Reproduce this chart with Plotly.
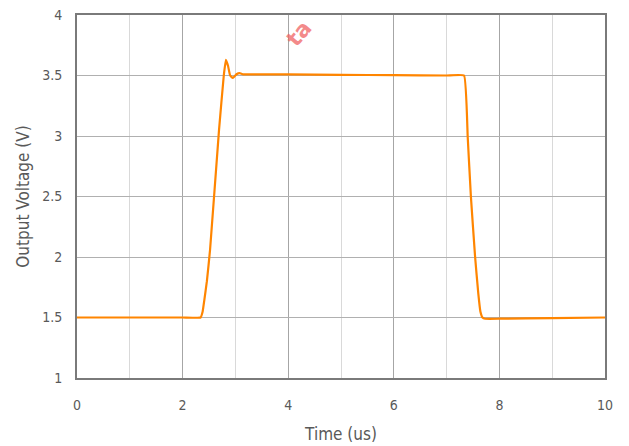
import plotly.graph_objects as go

time_us = [0, 1, 2, 2.34, 2.38, 2.41, 2.46, 2.52, 2.69, 2.78, 2.82, 2.86, 2.90, 2.95,
           3.02, 3.08, 3.15, 4, 5, 6, 7, 7.33, 7.40, 7.46, 7.54, 7.60, 7.64, 7.68,
           7.73, 8, 9, 10]
voltage = [1.5, 1.5, 1.5, 1.5, 1.55, 1.64, 1.8, 2.06, 3.05, 3.5, 3.63, 3.58, 3.5, 3.48,
           3.51, 3.52, 3.51, 3.51, 3.505, 3.503, 3.50, 3.50, 2.99, 2.5, 2.0, 1.7, 1.55, 1.5,
           1.49, 1.49, 1.495, 1.5]

x_ticks = [0, 2, 4, 6, 8, 10]
y_ticks = [1, 1.5, 2, 2.5, 3, 3.5, 4]

font_family = "DejaVu Sans Condensed, DejaVu Sans, sans-serif"
text_color = "#595959"

fig = go.Figure()
fig.add_trace(go.Scatter(x=time_us, y=voltage, mode="lines",
                         line=dict(color="#FF8500", width=2.2, shape="spline", smoothing=0.3),
                         showlegend=False))

fig.update_layout(
    width=629, height=446,
    margin=dict(l=69, r=32, t=7, b=76, autoexpand=False),
    paper_bgcolor="white", plot_bgcolor="white",
    font=dict(family=font_family, size=14, color=text_color),
    xaxis=dict(range=[0, 10], tickvals=x_ticks, ticktext=[str(v) for v in x_ticks],
               showgrid=True, gridcolor="#a6a6a6", gridwidth=1,
               minor=dict(dtick=1, showgrid=True, gridcolor="#d9d9d9", gridwidth=1),
               showline=True, linecolor="#7a7a7a", linewidth=2, mirror=True,
               zeroline=False, ticks="", ticklabelstandoff=13, automargin=False,
               ticklabeloverflow="allow",
               title=dict(text="Time (us)", standoff=16)),
    yaxis=dict(range=[1, 4], tickvals=y_ticks, ticktext=[f"{v:g}" for v in y_ticks],
               showgrid=True, gridcolor="#b0b0b0", gridwidth=1,
               showline=True, linecolor="#7a7a7a", linewidth=2, mirror=True,
               zeroline=False, ticks="", ticklabelstandoff=10, automargin=False,
               ticklabeloverflow="allow",
               title=dict(text="Output Voltage (V)", standoff=8)),
)

fig.add_annotation(text="<b>ta</b>", xref="paper", yref="paper", x=0.42, y=0.95,
                   yanchor="middle", showarrow=False, textangle=-50,
                   font=dict(size=22, color="rgba(240,100,100,0.75)", family="DejaVu Sans"))

fig.write_html("out.html")
